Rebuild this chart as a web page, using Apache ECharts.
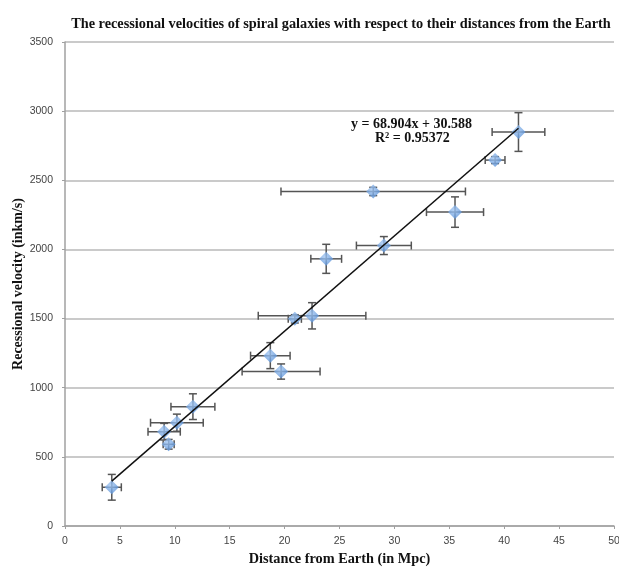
<!DOCTYPE html>
<html>
<head>
<meta charset="utf-8">
<script src="https://cdn.jsdelivr.net/npm/echarts@6/dist/echarts.min.js"></script>
<style>
  html, body { margin: 0; padding: 0; background: #fff; }
  #main { width: 619px; height: 569px; }
</style>
</head>
<body>
<div id="main"></div>
<script>
// distance (Mpc), velocity (km/s) and their error bars
var distances = [4.26, 9.03, 9.44, 10.19, 11.65, 18.7, 19.68, 20.93, 22.5, 23.79, 28.07, 29.04, 35.52, 39.17, 41.3];
var velocities = [280, 682, 591, 747, 863, 1232, 1117, 1498, 1520, 1932, 2419, 2028, 2270, 2646, 2849];
var distErr = [0.87, 1.47, 0.5, 2.4, 2.0, 1.8, 3.55, 0.6, 4.9, 1.4, 8.4, 2.5, 2.6, 0.9, 2.4];
var velErr = [93, 60, 35, 62, 93, 94, 55, 30, 95, 105, 30, 65, 110, 25, 140];

var slope = 68.904;
var intercept = 30.588;
var rSquared = 0.95372;

var xTicks = [0, 5, 10, 15, 20, 25, 30, 35, 40, 45, 50];
var yTicks = [0, 500, 1000, 1500, 2000, 2500, 3000, 3500];

var serif = '"Liberation Serif", "Times New Roman", serif';
var sans = '"Liberation Sans", Arial, sans-serif';

var myChart = echarts.init(document.getElementById('main'));

var points = distances.map(function (d, i) {
    return [d, velocities[i], distErr[i], velErr[i]];
});

var xMin = Math.min.apply(null, distances);
var xMax = Math.max.apply(null, distances);
var trend = [[xMin, slope * xMin + intercept], [xMax, slope * xMax + intercept]];

function renderErr(params, api) {
    var x = api.value(0), y = api.value(1), ex = api.value(2), ey = api.value(3);
    var l = api.coord([x - ex, y]), r = api.coord([x + ex, y]);
    var t = api.coord([x, y + ey]), b = api.coord([x, y - ey]);
    var cap = 4;
    var style = { stroke: '#555', lineWidth: 1.5 };
    var lines = [
        [l, r],
        [[l[0], l[1] - cap], [l[0], l[1] + cap]],
        [[r[0], r[1] - cap], [r[0], r[1] + cap]],
        [t, b],
        [[t[0] - cap, t[1]], [t[0] + cap, t[1]]],
        [[b[0] - cap, b[1]], [b[0] + cap, b[1]]]
    ];
    return {
        type: 'group',
        children: lines.map(function (p) {
            return {
                type: 'line',
                shape: { x1: p[0][0], y1: p[0][1], x2: p[1][0], y2: p[1][1] },
                style: style
            };
        })
    };
}

var option = {
    backgroundColor: '#fff',
    animation: false,
    title: {
        text: 'The recessional velocities of spiral galaxies with respect to their distances from the Earth',
        left: 336,
        textAlign: 'center',
        top: 12,
        textStyle: { fontFamily: serif, fontSize: 14.3, fontWeight: 'bold', color: '#111' }
    },
    grid: { left: 65, right: 5, top: 42, bottom: 43, outerBoundsMode: 'none' },
    xAxis: {
        type: 'value',
        min: xTicks[0],
        max: xTicks[xTicks.length - 1],
        interval: 5,
        name: 'Distance from Earth (in Mpc)',
        nameLocation: 'middle',
        nameGap: 26,
        nameMoveOverlap: false,
        nameTextStyle: { fontFamily: serif, fontSize: 14.3, fontWeight: 'bold', color: '#111' },
        axisLine: { lineStyle: { color: '#a0a0a0', width: 1.5 } },
        axisTick: { show: true, length: 3, lineStyle: { color: '#a0a0a0' } },
        axisLabel: { fontFamily: sans, fontSize: 10.5, color: '#444', margin: 10 },
        splitLine: { show: false }
    },
    yAxis: {
        type: 'value',
        min: yTicks[0],
        max: yTicks[yTicks.length - 1],
        interval: 500,
        name: 'Recessional velocity (inkm/s)',
        nameLocation: 'middle',
        nameGap: 40,
        nameMoveOverlap: false,
        nameTextStyle: { fontFamily: serif, fontSize: 14, fontWeight: 'bold', color: '#111' },
        axisLine: { show: true, lineStyle: { color: '#a0a0a0', width: 1.5 } },
        axisTick: { show: true, length: 3, lineStyle: { color: '#a0a0a0' } },
        axisLabel: {
            fontFamily: sans, fontSize: 10.5, color: '#444', margin: 12,
            formatter: function (v) { return String(v); }
        },
        splitLine: { show: true, lineStyle: { color: '#b8b8b8', width: 1.5 } }
    },
    series: [
        {
            type: 'custom',
            renderItem: renderErr,
            data: points,
            z: 2,
            silent: true
        },
        {
            type: 'scatter',
            data: points,
            symbol: 'diamond',
            symbolSize: 14,
            itemStyle: {
                color: new echarts.graphic.RadialGradient(0.4, 0.35, 0.7, [
                    { offset: 0, color: '#a2c6f2' },
                    { offset: 1, color: '#5790d8' }
                ])
            },
            z: 3
        },
        {
            type: 'line',
            data: trend,
            symbol: 'none',
            lineStyle: { color: '#111', width: 1.5 },
            z: 4
        }
    ],
    graphic: [
        {
            type: 'text',
            left: 351,
            top: 117,
            style: {
                text: 'y = ' + slope + 'x + ' + intercept,
                font: 'bold 14px ' + serif,
                fill: '#111'
            }
        },
        {
            type: 'text',
            left: 375,
            top: 131,
            style: {
                text: 'R² = ' + rSquared,
                font: 'bold 14px ' + serif,
                fill: '#111'
            }
        }
    ]
};

myChart.setOption(option);

window.addEventListener('resize', function () {
    myChart.resize();
});
</script>
</body>
</html>
